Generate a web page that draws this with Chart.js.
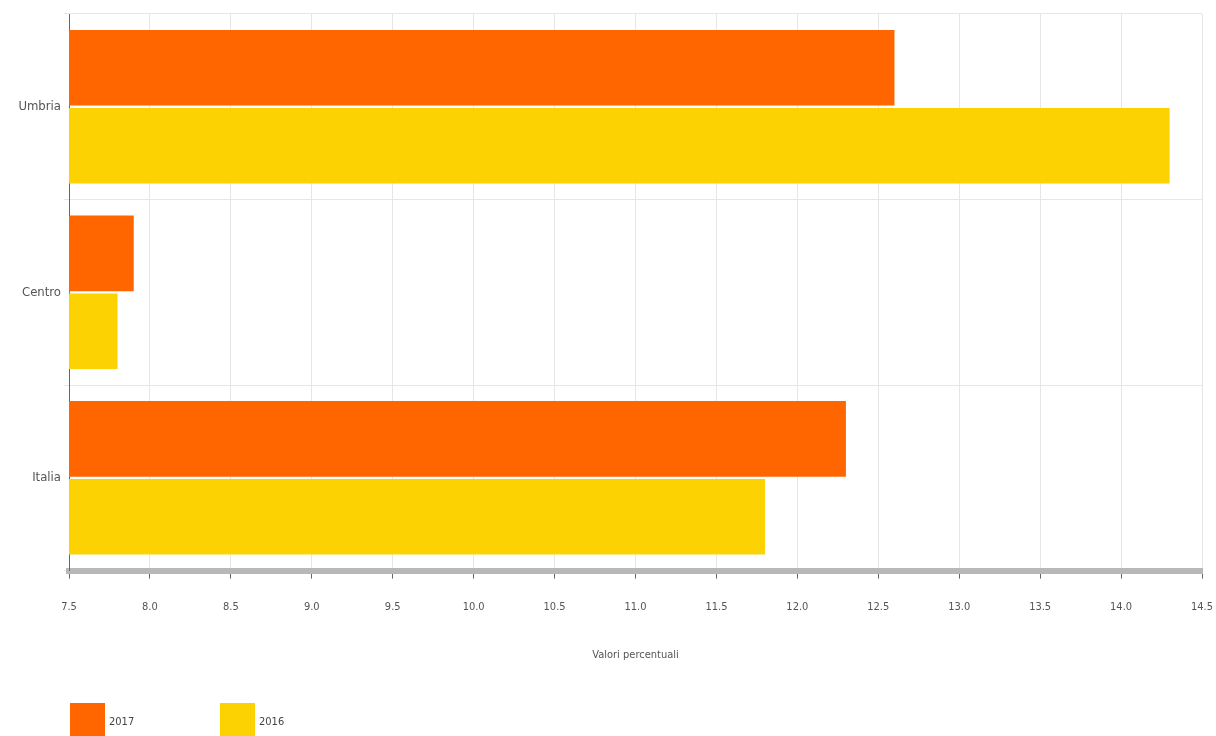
<!DOCTYPE html>
<html>
<head>
<meta charset="utf-8">
<script src="https://cdn.jsdelivr.net/npm/chart.js@4/dist/chart.umd.min.js"></script>
<style>
  html, body { margin: 0; padding: 0; background: #fff; }
  #wrap { position: relative; width: 1216px; height: 736px; overflow: hidden; }
  #legenda { position: absolute; left: 70px; top: 703px; font: 11px "DejaVu Sans Condensed", "DejaVu Sans", sans-serif; color: #444; }
  .voce { position: absolute; top: 0; white-space: nowrap; }
  .voce span.box { display: inline-block; width: 35px; height: 36px; vertical-align: top; }
  .voce span.txt { display: inline-block; margin-left: 4px; margin-top: 12px; }
</style>
</head>
<body>
<div id="wrap">
  <canvas id="grafico" width="1216" height="736"></canvas>
  <div id="legenda"></div>
</div>
<script>
  const categorie = ['Umbria', 'Centro', 'Italia'];
  const anni = ['2017', '2016'];
  const valori2017 = [12.6, 7.9, 12.3];
  const valori2016 = [14.3, 7.8, 11.8];
  const colori = ['#FF6600', '#FCD202'];
  const titoloAsse = 'Valori percentuali';

  const font = "'DejaVu Sans Condensed', 'DejaVu Sans', sans-serif";
  const testo = '#555';

  new Chart(document.getElementById('grafico'), {
    type: 'bar',
    data: {
      labels: categorie,
      datasets: [
        { label: anni[0], data: valori2017, backgroundColor: colori[0] },
        { label: anni[1], data: valori2016, backgroundColor: colori[1] },
      ],
    },
    options: {
      indexAxis: 'y',
      responsive: false,
      animation: false,
      categoryPercentage: 0.84,
      barPercentage: 0.97,
      layout: { padding: { top: 14, right: 14, bottom: 70, left: 0 } },
      plugins: { legend: { display: false }, tooltip: { enabled: false } },
      scales: {
        x: {
          min: 7.5,
          max: 14.5,
          afterFit: (s) => { s.paddingLeft = 0; s.paddingRight = 0; },
          ticks: {
            stepSize: 0.5,
            color: testo,
            padding: 22,
            font: { family: font, size: 11 },
            callback: (v) => Number(v).toFixed(1),
          },
          grid: { color: '#e6e6e6', tickLength: 8, tickColor: '#666' },
          border: { color: '#b8b8b8', width: 6 },
          title: {
            display: true,
            text: titoloAsse,
            color: testo,
            font: { family: font, size: 11 },
            padding: { top: 13 },
          },
        },
        y: {
          afterFit: (s) => { s.width = 69; },
          ticks: { color: testo, padding: 3, font: { family: font, size: 13 } },
          grid: { color: '#e6e6e6', tickLength: 5 },
          border: { color: '#666', width: 1 },
        },
      },
    },
  });

  // legenda in basso a sinistra
  const leg = document.getElementById('legenda');
  anni.forEach((a, i) => {
    const d = document.createElement('div');
    d.className = 'voce';
    d.style.left = (i * 150) + 'px';
    d.innerHTML = '<span class="box" style="background:' + colori[i] + '"></span><span class="txt">' + a + '</span>';
    leg.appendChild(d);
  });
</script>
</body>
</html>
